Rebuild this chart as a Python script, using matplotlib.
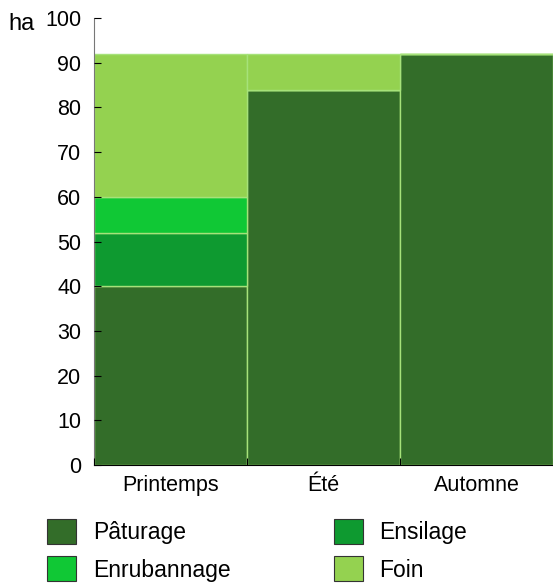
import numpy as np
import matplotlib.pyplot as plt
from matplotlib.patches import Patch

plt.rcParams['font.family'] = ['Liberation Sans', 'DejaVu Sans']

saisons = ['Printemps', 'Été', 'Automne']
categories = ['Pâturage', 'Ensilage', 'Enrubannage', 'Foin']
paturage = [40, 84, 92]
ensilage = [12, 0, 0]
enrubannage = [8, 0, 0]
foin = [32, 8, 0]
colors = ['#336d29', '#0e9a30', '#10c835', '#94d250']

series = [paturage, ensilage, enrubannage, foin]

fig = plt.figure(figsize=(5.53, 5.86), dpi=100)
ax = fig.add_axes([94/553, 121/586, 1 - 94/553, (465-18)/586])

x = np.arange(len(saisons))
bottom = np.zeros(len(saisons))
for vals, c in zip(series, colors):
    vals = np.array(vals, dtype=float)
    ax.bar(x, vals, width=1.0, bottom=bottom, color=c, edgecolor='#a6e27a', linewidth=1.0)
    bottom += vals

ax.set_xlim(-0.5, len(saisons) - 0.5)
ax.set_ylim(0, 100)
ax.set_yticks(range(0, 101, 10))
ax.set_xticks(np.arange(len(saisons) + 1) - 0.5)
ax.set_xticklabels([])
ax.set_xticks(x, minor=True)
ax.set_xticklabels(saisons, minor=True)
ax.tick_params(axis='x', which='major', direction='in', length=5, color='black')
ax.tick_params(axis='x', which='minor', length=0, pad=7, labelsize=15.5)
ax.tick_params(axis='y', direction='in', length=5, labelsize=15.5, pad=9)
for s in ['top', 'right']:
    ax.spines[s].set_visible(False)
ax.spines['left'].set_color('#777777')
ax.spines['bottom'].set_color('black')
ax.set_axisbelow(False)

fig.text(8/553, 1 - 24/586, 'ha', fontsize=17, va='center', ha='left')

handles = [Patch(facecolor=c, edgecolor='#333333', linewidth=0.8) for c in colors]
order = [0, 2, 1, 3]
fig.legend([handles[i] for i in order], [categories[i] for i in order], ncol=2,
           loc='upper left', bbox_to_anchor=(29/553, 1 - 501/586), frameon=False,
           fontsize=16.5, handlelength=1.27, handleheight=1.3, handletextpad=0.72,
           columnspacing=4.5, labelspacing=0.52, borderpad=0.3)

fig.savefig('out.png', dpi=100)
